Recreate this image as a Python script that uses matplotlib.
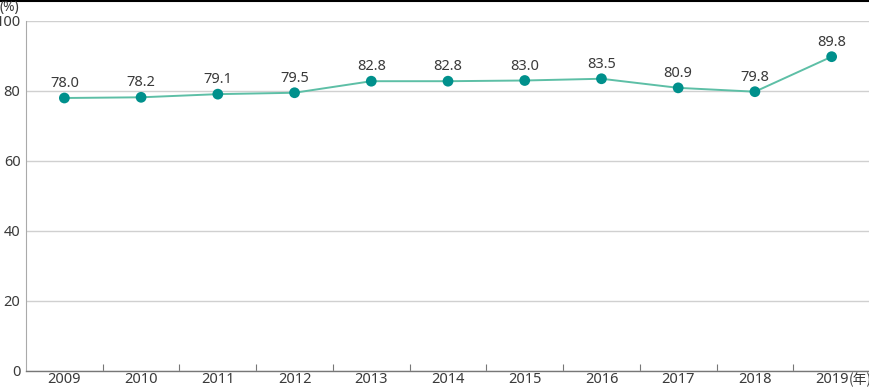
import matplotlib
matplotlib.use("Agg")
import matplotlib.pyplot as plt
from matplotlib.lines import Line2D

plt.rcParams['font.family'] = ['Noto Sans', 'Noto Sans CJK JP', 'DejaVu Sans']

years = ["2009", "2010", "2011", "2012", "2013", "2014", "2015", "2016", "2017", "2018", "2019"]
values = [78.0, 78.2, 79.1, 79.5, 82.8, 82.8, 83.0, 83.5, 80.9, 79.8, 89.8]
yticks = [0, 20, 40, 60, 80, 100]

TXT = "#3a3a3a"
fig = plt.figure(figsize=(8.7, 3.87), dpi=100)
ax = fig.add_axes([26/870, 1-371/387, 1-26/870, 350/387])

x = list(range(len(years)))
ax.plot(x, values, color="#5dbfa6", lw=1.4, zorder=3)
ax.scatter(x, values, s=60, color="#00908c", zorder=4, edgecolors="none")
for xi, v in zip(x, values):
    ax.annotate(f"{v:.1f}", (xi, v), xytext=(0, 5), textcoords="offset points",
                ha="center", va="bottom", fontsize=10.5, color=TXT)

ax.set_xlim(-0.5, len(years) - 0.5)
ax.set_ylim(0, 100)
ax.set_yticks(yticks)
ax.set_yticklabels([str(t) for t in yticks], fontsize=10.5, color=TXT)
ax.set_xticks(x)
ax.set_xticklabels(years, fontsize=10.5, color=TXT)
ax.set_xticks([i + 0.5 for i in range(len(years) - 1)], minor=True)
ax.tick_params(axis="x", which="major", length=0, pad=1)
ax.tick_params(axis="x", which="minor", direction="in", length=5, color="#777777", width=0.8)
ax.tick_params(axis="y", length=0, pad=4)

ax.grid(axis="y", color="#d0d0d0", lw=1)
ax.set_axisbelow(True)
for s in ["top", "right"]:
    ax.spines[s].set_visible(False)
ax.spines["left"].set_color("#aaaaaa")
ax.spines["bottom"].set_color("#777777")
ax.spines["bottom"].set_linewidth(1)

ax.annotate("(年)", (10, 0), xytext=(12, -1), textcoords="offset points",
            ha="left", va="top", fontsize=10, color=TXT, annotation_clip=False,
            family=['Noto Sans CJK JP'])
fig.text(0/870, 1-15/387, "(%)", fontsize=10, color=TXT, ha="left", va="bottom")
fig.add_artist(Line2D([0, 1], [1 - 0.5/387, 1 - 0.5/387], color="black", lw=1.5, transform=fig.transFigure))

fig.savefig("out.png", dpi=100)
